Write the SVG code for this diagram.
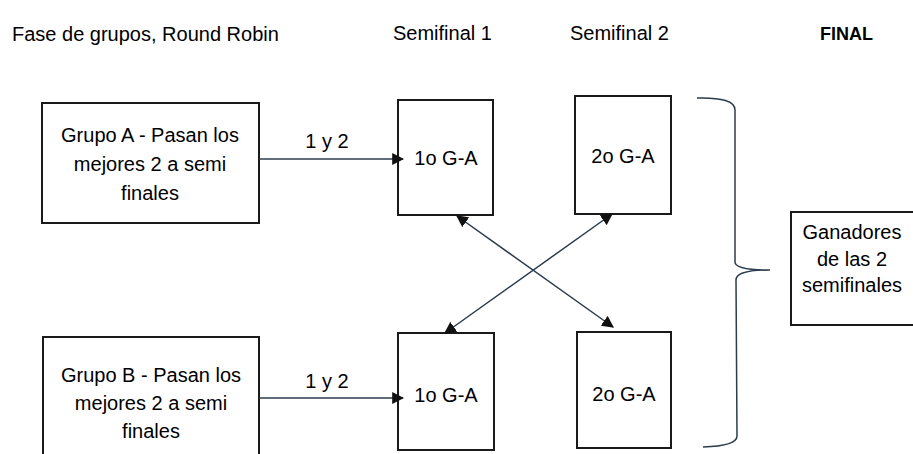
<svg xmlns="http://www.w3.org/2000/svg" width="913" height="454" viewBox="0 0 913 454">
<defs>
<style>
text{font-family:"Liberation Sans",Arial,sans-serif;font-size:20px;fill:#000;}
.c{text-anchor:middle;}
.b{font-weight:bold;font-size:18px;}
rect{fill:#fff;stroke:#1a1a1a;stroke-width:2;}
.ln{stroke:#2c3c4c;stroke-width:1.5;fill:none;}
</style>
<marker id="ah2" viewBox="0 0 10 10" refX="9" refY="5" markerWidth="12" markerHeight="12" orient="auto-start-reverse" markerUnits="userSpaceOnUse">
<path d="M0,0 L10,5 L0,10 z" fill="#111"/>
</marker>
</defs>
<rect x="0" y="0" width="913" height="454" style="fill:#fff;stroke:none"/>
<g id="headers">
<text x="12" y="41">Fase de grupos, Round Robin</text>
<text x="393" y="40">Semifinal 1</text>
<text x="570" y="40">Semifinal 2</text>
<text x="820" y="40" class="b">FINAL</text>
</g>
<g id="grupoA">
<rect x="42" y="103" width="217" height="120"/>
<text x="150" y="142" class="c">Grupo A - Pasan los</text>
<text x="150" y="171" class="c">mejores 2 a semi</text>
<text x="150" y="200" class="c">finales</text>
</g>
<g id="grupoB">
<rect x="43" y="337" width="216" height="125"/>
<text x="151" y="382" class="c">Grupo B - Pasan los</text>
<text x="151" y="410" class="c">mejores 2 a semi</text>
<text x="151" y="438" class="c">finales</text>
</g>
<g id="sf1a">
<rect x="398" y="100" width="95" height="115"/>
<text x="446" y="165" class="c">1o G-A</text>
</g>
<g id="sf2a">
<rect x="575" y="96" width="96" height="118"/>
<text x="623" y="163" class="c">2o G-A</text>
</g>
<g id="sf1b">
<rect x="398" y="333" width="96" height="117"/>
<text x="446" y="402" class="c">1o G-A</text>
</g>
<g id="sf2b">
<rect x="577" y="332" width="94" height="116"/>
<text x="624" y="401" class="c">2o G-A</text>
</g>
<g id="final">
<rect x="791" y="212" width="125" height="113"/>
<text x="852" y="239" class="c">Ganadores</text>
<text x="852" y="266" class="c">de las 2</text>
<text x="852" y="292" class="c">semifinales</text>
</g>
<g id="connectors">
<line class="ln" x1="259" y1="159" x2="403" y2="159" marker-end="url(#ah2)"/>
<text x="327" y="148" class="c">1 y 2</text>
<line class="ln" x1="259" y1="398" x2="403" y2="398" marker-end="url(#ah2)"/>
<text x="327" y="388" class="c">1 y 2</text>
<line class="ln" x1="457" y1="216" x2="613" y2="327" marker-start="url(#ah2)" marker-end="url(#ah2)"/>
<line class="ln" x1="612" y1="214" x2="445" y2="333" marker-start="url(#ah2)" marker-end="url(#ah2)"/>
<path class="ln" d="M697,98 Q735,97 735,110 L735,262 Q735,270 770,270 Q736,270 736,280 L737,436 Q737,446 703,447"/>
</g>
</svg>
